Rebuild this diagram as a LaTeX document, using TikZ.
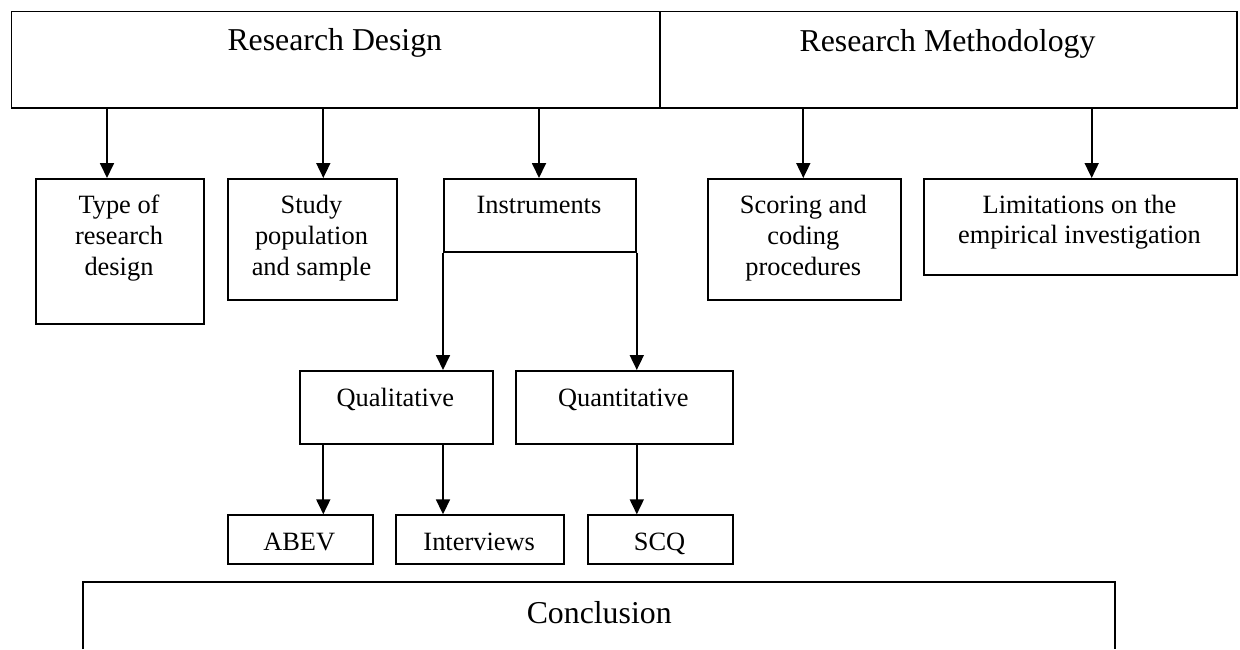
\documentclass[tikz,border=0pt]{standalone}
\usepackage{fontspec}
\setmainfont{Liberation Serif}
\usetikzlibrary{arrows.meta}
\begin{document}
\begin{tikzpicture}[x=1pt,y=-1pt,
  box/.style={draw, line width=1.8pt, rectangle, inner sep=0pt, anchor=north west},
  lbl/.style={anchor=base, inner sep=0pt, align=center, font=\fontsize{26.4}{30.8}\selectfont},
  big/.style={anchor=base, inner sep=0pt, font=\fontsize{31.8}{36}\selectfont},
  link/.style={line width=1.8pt, -{Triangle[length=15pt,width=14pt]}},
]
\useasboundingbox (0,0) rectangle (1240,649);

% header boxes
\node[box, minimum width=648.5pt, minimum height=96.2pt] (rd) at (10.5,10.5) {};
\node[box, minimum width=576.7pt, minimum height=96.2pt] (rm) at (659,10.5) {};
\node[big] (rdt) at (334.8,50.7) {Research Design};
\node[big] (rmt) at (947.5,51) {Research Methodology};

% second row (multi-line labels are placed by their last baseline)
\node[box, minimum width=168pt, minimum height=145pt] (type) at (35,178) {};
\node[box, minimum width=169pt, minimum height=121pt] (study) at (227,178) {};
\node[box, minimum width=192pt, minimum height=73pt] (ins) at (443,178) {};
\node[box, minimum width=193.3pt, minimum height=120.7pt] (score) at (706.7,178) {};
\node[box, minimum width=312.4pt, minimum height=96pt] (limit) at (923.3,178) {};
\node[lbl] (typet) at (119,275) {Type of\\research\\design};
\node[lbl] (studyt) at (311.5,275.5) {Study\\population\\and sample};
\node[lbl] (inst) at (539,213.3) {Instruments};
\node[lbl] (scoret) at (803.3,275.5) {Scoring and\\coding\\procedures};
\node[lbl] (limitt) at (1079.5,243.8) {Limitations on the\\empirical investigation};

% instrument types
\node[box, minimum width=192.7pt, minimum height=72.7pt] (qual) at (299,370) {};
\node[box, minimum width=216.7pt, minimum height=72.7pt] (quant) at (515,370) {};
\node[lbl] (qualt) at (395.3,406.7) {Qualitative};
\node[lbl] (quantt) at (623.3,406.7) {Quantitative};

% instruments
\node[box, minimum width=145pt, minimum height=48.7pt] (abev) at (226.7,514.3) {};
\node[box, minimum width=168.3pt, minimum height=48.7pt] (intv) at (395,514.3) {};
\node[box, minimum width=144.4pt, minimum height=48.7pt] (scq) at (587.3,514.3) {};
\node[lbl] (abevt) at (299.2,550) {ABEV};
\node[lbl] (intvt) at (479.2,550) {Interviews};
\node[lbl] (scqt) at (659.5,550) {SCQ};

% conclusion box, open at the bottom
\coordinate (cbl) at (83.3,649);
\coordinate (ctl) at (83.3,582.3);
\coordinate (ctr) at (1115,582.3);
\coordinate (cbr) at (1115,649);
\draw[line width=2.2pt] (cbl) -- (ctl) -- (ctr) -- (cbr);
\node[big] (conct) at (599.2,623.3) {Conclusion};

% connector columns
\coordinate (x1) at (107,0);
\coordinate (x2) at (323.3,0);
\coordinate (x3) at (539,0);
\coordinate (x4) at (803.3,0);
\coordinate (x5) at (1091.7,0);

\draw[link] (x1 |- rd.south) -- (x1 |- type.north);
\draw[link] (x2 |- rd.south) -- (x2 |- study.north);
\draw[link] (x3 |- rd.south) -- (x3 |- ins.north);
\draw[link] (x4 |- rm.south) -- (x4 |- score.north);
\draw[link] (x5 |- rm.south) -- (x5 |- limit.north);

\draw[link] (ins.south west) -- (ins.south west |- qual.north);
\draw[link] (ins.south east) -- (ins.south east |- quant.north);

\draw[link] (x2 |- qual.south) -- (x2 |- abev.north);
\draw[link] (ins.south west |- qual.south) -- (ins.south west |- intv.north);
\draw[link] (ins.south east |- quant.south) -- (ins.south east |- scq.north);
\end{tikzpicture}
\end{document}
